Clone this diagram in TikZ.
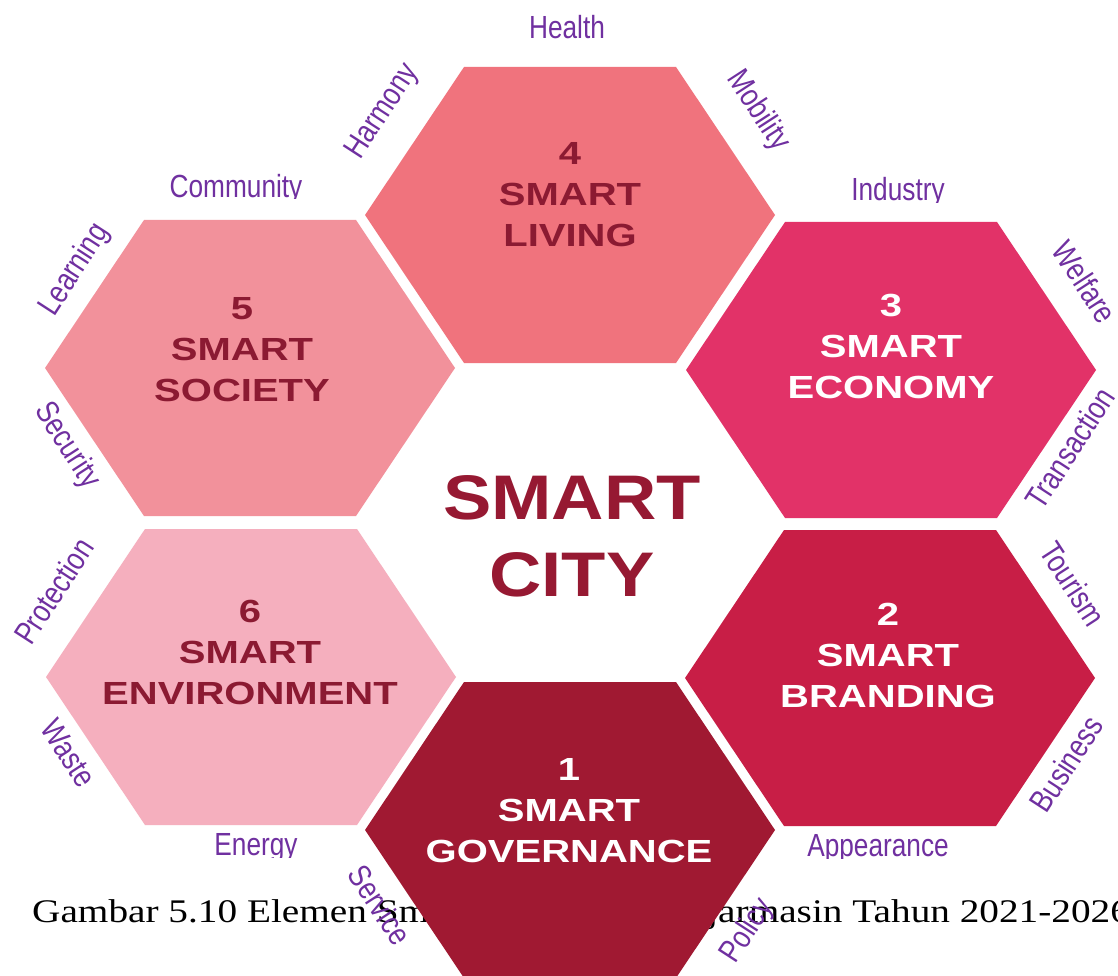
\documentclass[tikz,border=0pt]{standalone}
\usepackage{fontspec}
\setmainfont{Liberation Sans}
\newfontfamily\labelfont[FakeStretch=0.82]{Liberation Sans}
\newfontfamily\hexfont[FakeStretch=1.25]{Liberation Sans}
\newfontfamily\cityfont[FakeStretch=1.15]{Liberation Sans}
\newfontfamily\capfont[FakeStretch=1.19]{Liberation Serif}
\definecolor{hexA}{HTML}{A01932}
\definecolor{hexB}{HTML}{C81E46}
\definecolor{hexC}{HTML}{E23268}
\definecolor{hexD}{HTML}{F0737D}
\definecolor{hexE}{HTML}{F2919B}
\definecolor{hexF}{HTML}{F5AFBE}
\definecolor{darktxt}{HTML}{8B1A32}
\definecolor{citycol}{HTML}{961932}
\definecolor{lblpurple}{HTML}{7030A0}
\newcommand\hexat[3]{\fill[#3, shift={(#1,#2)}] (-205,0) -- (-106,-148) -- (106,-148) -- (205,0) -- (106,148) -- (-106,148) -- cycle;}
\tikzset{
  lbl/.style={text=lblpurple, font=\labelfont\fontsize{32}{36}\selectfont, inner sep=0pt},
  hextxt/.style={font=\hexfont\bfseries\fontsize{32}{41}\selectfont, align=center, inner sep=0pt},
  citytxt/.style={font=\cityfont\bfseries\fontsize{63}{77}\selectfont, align=center, inner sep=0pt, text=citycol},
  captxt/.style={font=\capfont\fontsize{33}{40}\selectfont, inner sep=0pt, anchor=base west, text=black}
}
\begin{document}
\begin{tikzpicture}[x=1pt,y=-1pt]
\useasboundingbox (0,0) rectangle (1118,976);
\fill[white] (0,0) rectangle (1118,976);
% caption (partly hidden behind hexagon 1)
\node[captxt] (caption) at (32,922) {Gambar 5.10 Elemen Smart City Kota Banjarmasin Tahun 2021-2026};
% hexagons
\hexat{570}{215}{hexD}
\hexat{250}{368}{hexE}
\hexat{891}{370}{hexC}
\hexat{251}{677}{hexF}
\hexat{890}{678}{hexB}
\hexat{570}{830}{hexA}
% hexagon texts
\node[hextxt, text=darktxt] (t4) at (570,195) {4\\SMART\\LIVING};
\node[hextxt, text=darktxt] (t5) at (242,350) {5\\SMART\\SOCIETY};
\node[hextxt, text=white] (t3) at (891,346) {3\\SMART\\ECONOMY};
\node[hextxt, text=darktxt] (t6) at (250,652) {6\\SMART\\ENVIRONMENT};
\node[hextxt, text=white] (t2) at (888,655) {2\\SMART\\BRANDING};
\node[hextxt, text=white] (t1) at (569,811) {1\\SMART\\GOVERNANCE};
% centre
\node[citytxt] (city) at (572,536) {SMART\\CITY};
% labels
\node[lbl, anchor=base] (health) at (567,39) {Health};
\node[lbl, rotate=57] (harmony) at (383,112) {Harmony};
\node[lbl, rotate=-57] (mobility) at (758,111) {Mobility};
\begin{scope}
\clip (150,160) rectangle (330,199);
\node[lbl, anchor=base] (community) at (236,198) {Community};
\end{scope}
\begin{scope}
\clip (820,160) rectangle (980,203);
\node[lbl, anchor=base] (industry) at (898,201) {Industry};
\end{scope}
\node[lbl, rotate=57] (learning) at (75,270) {Learning};
\node[lbl, rotate=-57] (welfare) at (1085,282) {Welfare};
\node[lbl, rotate=-57] (security) at (67,446) {Security};
\node[lbl, rotate=57] (transaction) at (1070,448) {Transaction};
\node[lbl, rotate=57] (protection) at (54,591) {Protection};
\node[lbl, rotate=-57] (tourism) at (1073,584) {Tourism};
\node[lbl, rotate=-57] (waste) at (69,753) {Waste};
\node[lbl, rotate=57] (business) at (1066,764) {Business};
\begin{scope}
\clip (190,815) rectangle (330,857);
\node[lbl, anchor=base] (energy) at (256,855) {Energy};
\end{scope}
\begin{scope}
\clip (780,815) rectangle (980,858);
\node[lbl, anchor=base] (appearance) at (878,856) {Appearance};
\end{scope}
\node[lbl, rotate=-57] (service) at (380,905) {Service};
\node[lbl, rotate=57] (policy) at (748,931) {Policy};
\end{tikzpicture}
\end{document}
